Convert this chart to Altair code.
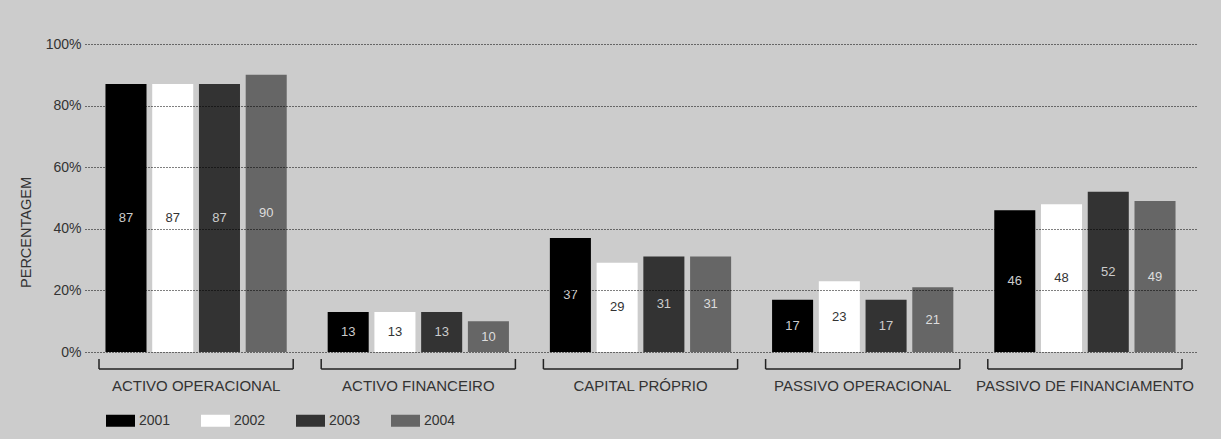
import altair as alt
import pandas as pd

# Balance-sheet structure by year (percent of total)
categories = [
    "ACTIVO OPERACIONAL",
    "ACTIVO FINANCEIRO",
    "CAPITAL PRÓPRIO",
    "PASSIVO OPERACIONAL",
    "PASSIVO DE FINANCIAMENTO",
]
years = ["2001", "2002", "2003", "2004"]
v2001 = [87, 13, 37, 17, 46]
v2002 = [87, 13, 29, 23, 48]
v2003 = [87, 13, 31, 17, 52]
v2004 = [90, 10, 31, 21, 49]
series = [v2001, v2002, v2003, v2004]

bar_colors = ["#000000", "#ffffff", "#333333", "#666666"]
label_colors = ["#cccccc", "#333333", "#cccccc", "#dddddd"]
y_ticks = [0, 20, 40, 60, 80, 100]

rows = []
for yi, year in enumerate(years):
    for ci, cat in enumerate(categories):
        rows.append({
            "cat": cat,
            "year": year,
            "value": series[yi][ci],
            "labcol": label_colors[yi],
        })
df = pd.DataFrame(rows)
cat_df = pd.DataFrame({"cat": categories})

W, H = 1118, 308
FONT = "Liberation Sans"
TXT = "#333333"
Y_TITLE = "PERCENTAGEM"

x_scale = alt.Scale(domain=categories, range=[-3, 1108], paddingInner=0, paddingOuter=0)
x_enc = alt.X(
    "cat:N",
    sort=categories,
    scale=x_scale,
    axis=alt.Axis(
        title=None, ticks=False, domain=False, labelAngle=0, labelLimit=0,
        labelFont=FONT, labelFontSize=15, labelColor=TXT, labelPadding=26,
    ),
)
xoff = alt.XOffset("year:N", sort=years, scale=alt.Scale(paddingInner=0.122, paddingOuter=0.438))

bars = alt.Chart(df).mark_bar().encode(
    x=x_enc,
    xOffset=xoff,
    y=alt.Y(
        "value:Q",
        scale=alt.Scale(domain=[0, 100], nice=False),
        axis=alt.Axis(
            title=Y_TITLE, values=y_ticks, labelExpr="datum.value + '%'",
            grid=True, gridColor="#000000", gridDash=[1, 2], gridWidth=1, gridCap="butt",
            ticks=False, domain=False, zindex=1,
            labelFont=FONT, labelFontSize=14, labelColor=TXT, labelPadding=7,
            titleFont=FONT, titleFontSize=14.5, titleColor=TXT, titleFontWeight="normal",
            titleX=-62, titleY=188, titleAngle=270, titleBaseline="middle", titleAlign="center",
        ),
    ),
    color=alt.Color(
        "year:N",
        sort=years,
        scale=alt.Scale(domain=years, range=bar_colors),
        legend=alt.Legend(
            title=None, orient="none", legendX=18, legendY=362, direction="horizontal",
            symbolType="M-1,-0.4138H1V0.4138H-1Z", symbolSize=841, symbolStrokeWidth=0,
            symbolOpacity=1, labelFont=FONT, labelFontSize=14, labelColor=TXT,
            labelOffset=4, columnPadding=30,
        ),
    ),
)

labels = alt.Chart(df).transform_calculate(mid="datum.value / 2").mark_text(
    font=FONT, fontSize=13, baseline="middle"
).encode(
    x=alt.X("cat:N", sort=categories),
    xOffset=alt.XOffset("year:N", sort=years),
    y=alt.Y("mid:Q", title=Y_TITLE),
    text=alt.Text("value:Q"),
    color=alt.Color("labcol:N", scale=None),
)

# Brackets grouping the four bars of each category
bracket_h = alt.Chart(cat_df).mark_rule(
    color="#222222", strokeWidth=1.5, xOffset=14, x2Offset=-14
).encode(
    x=alt.X("cat:N", sort=categories, bandPosition=0),
    x2=alt.X2("cat:N", bandPosition=1),
    y=alt.value(H + 17),
)
bracket_l = alt.Chart(cat_df).mark_rule(color="#222222", strokeWidth=1.5, xOffset=14).encode(
    x=alt.X("cat:N", sort=categories, bandPosition=0),
    y=alt.value(H + 7),
    y2=alt.value(H + 17),
)
bracket_r = alt.Chart(cat_df).mark_rule(color="#222222", strokeWidth=1.5, xOffset=-14).encode(
    x=alt.X("cat:N", sort=categories, bandPosition=1),
    y=alt.value(H + 7),
    y2=alt.value(H + 17),
)

chart = alt.layer(bars, labels, bracket_h, bracket_l, bracket_r).properties(
    width=W,
    height=H,
    autosize=alt.AutoSizeParams(type="none"),
    padding={"left": 88, "top": 44, "right": 15, "bottom": 87},
    background="#cccccc",
).configure_view(stroke=None).configure_axisY(gridDash=[1, 2], gridColor="#000000")

chart.save("out.html", embed_options={"renderer": "svg", "actions": False})
